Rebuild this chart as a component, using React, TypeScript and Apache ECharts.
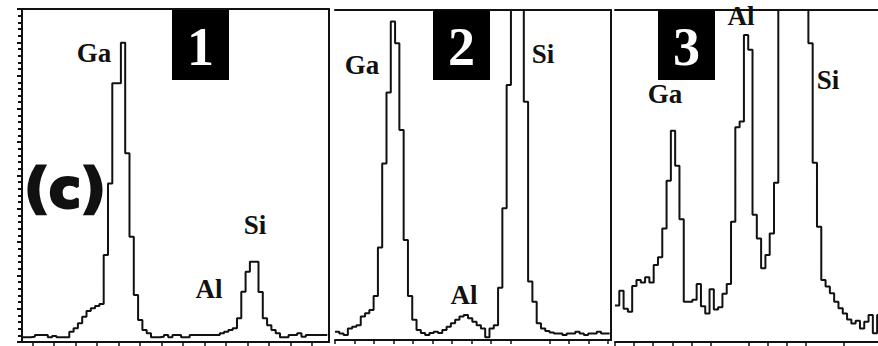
import React, { useEffect, useRef } from "react";
import * as echarts from "echarts";

// Energy axes (keV) and bin widths per panel
const P1_MIN = 0.65, P1_MAX = 2.078, P1_START = 0.65, P1_BIN = 0.02;
const P2_MIN = 0.8, P2_MAX = 2.215, P2_START = 0.8, P2_BIN = 0.022;
const P3_MIN = 0.8, P3_MAX = 2.177, P3_START = 0.8, P3_BIN = 0.0225;

// Tick positions (keV) visible under each panel
const TICKS1 = [0.7, 0.8, 0.9, 1.0, 1.1, 1.2, 1.3, 1.4, 1.5, 1.6, 1.7, 1.8, 1.9, 2.0];
const TICKS2 = [0.8, 0.9, 1.0, 1.1, 1.2, 1.3, 1.4, 1.5, 1.6, 1.7, 1.9, 2.0, 2.1, 2.2];
const TICKS3 = [0.8, 0.9, 1.0, 1.1, 1.2, 1.3, 1.5, 1.6, 1.7, 1.8, 2.0];

// Counts (% of panel full scale) per channel
const COUNTS1 = [
  1.4, 1.4, 1.6, 2.1, 2.1, 2.1, 1.4, 1.8, 1.4, 1.4, 1.4,
  3.1, 4.1, 5.6, 7.6, 9.3, 10.1, 10.8, 11.4,
  26.1, 47.6, 77.7, 77.7, 89.9, 56.7, 31.6, 14.1, 6.6, 3.6, 2.6, 1.4,
  1.4, 1.6, 2.1, 1.4, 2.1, 2.1, 1.4, 1.4, 2.1, 2.1, 2.1, 2.1, 2.1, 2.1, 2.1,
  2.6, 3.1, 3.6, 4.1, 7.1, 15.1, 21.1, 24.1, 24.1, 15, 7.1, 5, 3.6, 2.6,
  1.4, 1.4, 2.1, 2.1, 2.6, 1.6, 2.1, 2.1, 2.1, 2.1, 2.1,
];
const COUNTS2 = [
  2.5, 2.0, 1.5, 3.5, 4.0, 4.5, 7.1, 8.1, 9.1, 13.3,
  28, 53.5, 75, 96.5, 89.9, 63.6, 30.3, 13.3, 6.1, 3.0,
  2.1, 1.5, 2.1, 2.5, 2.1, 3.0, 4.0, 5.1, 6.1, 7.1,
  7.6, 6.6, 5.5, 4.5, 3.5, 0.8, 3.5, 4.5, 15.8, 39.9,
  77.3, 130, 150, 110, 72.2, 17.7, 11.6, 5.1, 3.5, 2.7,
  2.3, 2.0, 2.0, 1.5, 2.0, 2.0, 2.5, 2.0, 1.5, 2.0, 2.0, 2.5, 2.0, 2.0,
];
const COUNTS3 = [
  11, 15.4, 10, 9.1, 16.9, 18.7, 17.9, 19.5, 17.9, 23.2,
  25.5, 34.2, 48.6, 63.6, 53.1, 37, 12.1, 12.1, 12.7, 17.5,
  10.8, 8.6, 15.9, 9.8, 10.5, 14.5, 17.5, 36.2, 64.7, 66.4,
  92.5, 88, 38.3, 31.2, 22.2, 26.2, 32.7, 48, 150, 160,
  170, 170, 160, 150, 120, 90, 54,
  34.7, 18.7, 16.7, 14.7, 12.1, 10.2, 8.6, 6.8, 5.6, 6.4, 4.1, 6.1, 8.1, 2.6, 8.1,
];

const PANEL_NUMBERS = ["1", "2", "3"];

function toSteps(start: number, bin: number, counts: number[]) {
  const pts = counts.map((c, i) => [start + i * bin, c]);
  pts.push([start + counts.length * bin, counts[counts.length - 1]]);
  return pts;
}

const INK = "#111";
const LABEL_FONT = 'bold 27px "Liberation Serif", "Times New Roman", serif';

function label(text: string, x: number, y: number, font = LABEL_FONT, fill = INK, strokeW = 0) {
  return {
    type: "text",
    x,
    y,
    z: 100,
    style: {
      text,
      font,
      fill,
      stroke: strokeW ? fill : undefined,
      lineWidth: strokeW,
      align: "center",
      verticalAlign: "middle",
      textAlign: "center",
      textVerticalAlign: "middle",
    },
  };
}

function numberBox(text: string, x: number) {
  return [
    { type: "rect", z: 90, shape: { x, y: 10, width: 57, height: 70 }, style: { fill: "#000" } },
    label(text, x + 28.5, 47, 'bold 54px "Liberation Serif", "Times New Roman", serif', "#fff"),
  ];
}

export default function App() {
  const ref = useRef<HTMLDivElement>(null);
  useEffect(() => {
    if (!ref.current) return;
    const chart = echarts.init(ref.current, undefined, { renderer: "svg" });
    const axisLine = { show: true, onZero: false, lineStyle: { color: INK, width: 2 } };
    const bottomX = (gridIndex: number, min: number, max: number, ticks: number[]) => ({
      type: "value",
      gridIndex,
      min,
      max,
      position: "bottom",
      axisLine,
      axisTick: { show: true, customValues: ticks, length: 4, inside: false, lineStyle: { color: INK, width: 1.5 } },
      axisLabel: { show: false },
      splitLine: { show: false },
    });
    const topX = (gridIndex: number, min: number, max: number) => ({
      type: "value",
      gridIndex,
      min,
      max,
      position: "top",
      axisLine,
      axisTick: { show: false },
      axisLabel: { show: false },
      splitLine: { show: false },
    });
    const hiddenY = (gridIndex: number, position: string, showLine: boolean) => ({
      type: "value",
      gridIndex,
      min: 0,
      max: 100,
      position,
      axisLine: { ...axisLine, show: showLine },
      axisTick: { show: false },
      axisLabel: { show: false },
      splitLine: { show: false },
    });
    const stepSeries = (xi: number, yi: number, data: number[][]) => ({
      type: "line",
      xAxisIndex: xi,
      yAxisIndex: yi,
      data,
      step: "end",
      showSymbol: false,
      symbol: "none",
      clip: true,
      lineStyle: { color: INK, width: 2 },
      emphasis: { disabled: true },
    });

    chart.setOption({
      animation: false,
      backgroundColor: "#fff",
      grid: [
        { left: 22, top: 9, width: 307, height: 333 },
        { left: 335, top: 10, width: 276, height: 330 },
        { left: 615, top: 10, width: 263, height: 332 },
      ],
      xAxis: [
        bottomX(0, P1_MIN, P1_MAX, TICKS1),
        topX(0, P1_MIN, P1_MAX),
        bottomX(1, P2_MIN, P2_MAX, TICKS2),
        topX(1, P2_MIN, P2_MAX),
        bottomX(2, P3_MIN, P3_MAX, TICKS3),
        topX(2, P3_MIN, P3_MAX),
      ],
      yAxis: [
        {
          type: "value",
          gridIndex: 0,
          min: 0,
          max: 100,
          interval: 10,
          position: "left",
          axisLine,
          axisTick: { show: true, length: 5, lineStyle: { color: INK, width: 2 } },
          minorTick: { show: true, splitNumber: 5, length: 4, lineStyle: { color: INK, width: 2 } },
          axisLabel: { show: false },
          splitLine: { show: false },
          minorSplitLine: { show: false },
        },
        hiddenY(0, "right", true),
        hiddenY(1, "left", false),
        hiddenY(1, "right", true),
        hiddenY(2, "left", false),
      ],
      series: [
        stepSeries(0, 0, toSteps(P1_START, P1_BIN, COUNTS1)),
        stepSeries(2, 2, toSteps(P2_START, P2_BIN, COUNTS2)),
        stepSeries(4, 4, toSteps(P3_START, P3_BIN, COUNTS3)),
      ],
      graphic: [
        ...numberBox(PANEL_NUMBERS[0], 172),
        ...numberBox(PANEL_NUMBERS[1], 433),
        ...numberBox(PANEL_NUMBERS[2], 658),
        label("Ga", 94, 53),
        label("Si", 255, 225),
        label("Al", 209, 289),
        label("(c)", 65, 188, 'bold 54px "DejaVu Sans", sans-serif', INK, 3),
        label("Ga", 362, 65),
        label("Si", 543, 54),
        label("Al", 464, 295),
        label("Ga", 665, 94),
        label("Al", 741, 16),
        label("Si", 828, 80),
      ],
    });
    return () => chart.dispose();
  }, []);
  return (
    <div
      ref={ref}
      style={{ position: "fixed", left: 0, top: 0, width: 878, height: 346, background: "#fff" }}
    />
  );
}
